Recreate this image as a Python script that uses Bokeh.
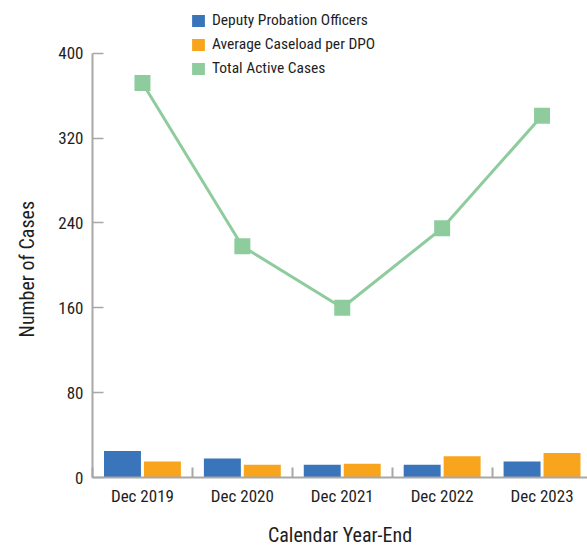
import numpy as np
from bokeh.plotting import figure
from bokeh.models import Range1d, FixedTicker, Legend, LegendItem, Title
from bokeh.embed import file_html
from bokeh.resources import INLINE

# ---- data ----
categories = ["Dec 2019", "Dec 2020", "Dec 2021", "Dec 2022", "Dec 2023"]
dpo = [25, 18, 12, 12, 15]
caseload = [15, 12, 13, 20, 23]
total = [372, 218, 160, 235, 341]
y_ticks = [0, 80, 160, 240, 320, 400]

# ---- style ----
BLUE = "#3A75BC"
ORANGE = "#F8A51D"
GREEN = "#8ECC9E"
AXIS = "#A8A8A8"
TEXT = "#1E1E1E"
FONT = "Roboto Condensed, DejaVu Sans Condensed"

centers = np.arange(len(categories)) + 0.5
bounds = list(range(len(categories) + 1))

p = figure(width=587, height=549, output_backend="svg", toolbar_location=None,
           x_range=Range1d(0, 4.955), y_range=Range1d(0, 449.7),
           min_border_left=90, min_border_top=0, min_border_right=0,
           min_border_bottom=72, outline_line_color=None,
           background_fill_color="white", border_fill_color="white")

p.xgrid.visible = False
p.ygrid.visible = False

r_dpo = p.vbar(x=centers - 0.2, top=dpo, width=0.37, fill_color=BLUE, line_color=None)
r_cl = p.vbar(x=centers + 0.2, top=caseload, width=0.37, fill_color=ORANGE, line_color=None)
p.line(centers, total, line_width=3, line_color=GREEN)
p.scatter(centers, total, marker="square", size=16, fill_color=GREEN, line_color=None)
# zero-height bars: only used to give the legend a square swatch
r_tot = p.vbar(x=centers, top=total, bottom=total, width=0.37, fill_color=GREEN, line_color=None)

# x axis
xa = p.xaxis[0]
xa.ticker = FixedTicker(ticks=list(centers), minor_ticks=bounds)
xa.major_label_overrides = {float(c): lab for c, lab in zip(centers, categories)}
xa.major_tick_line_color = None
xa.major_tick_in = 0
xa.major_tick_out = 0
xa.minor_tick_in = 10
xa.minor_tick_out = 0
xa.minor_tick_line_color = AXIS
xa.minor_tick_line_width = 2
xa.axis_line_color = AXIS
xa.axis_line_width = 2
xa.major_label_standoff = 8
xa.axis_label = "Calendar Year-End"
xa.axis_label_standoff = 14
xa.axis_label_text_font = FONT
xa.axis_label_text_font_size = "20px"
xa.axis_label_text_font_style = "normal"
xa.axis_label_text_color = TEXT

# y axis
ya = p.yaxis[0]
ya.ticker = FixedTicker(ticks=y_ticks)
ya.bounds = (y_ticks[0], y_ticks[-1])
ya.major_tick_in = 11
ya.major_tick_out = 0
ya.major_tick_line_color = AXIS
ya.major_tick_line_width = 1.5
ya.minor_tick_line_color = None
ya.axis_line_color = AXIS
ya.axis_line_width = 2
ya.major_label_standoff = 9

for ax in (xa, ya):
    ax.major_label_text_font = FONT
    ax.major_label_text_font_size = "17px"
    ax.major_label_text_color = TEXT

ytitle = Title(text="Number of Cases", align="left", offset=140,
               vertical_align="top", standoff=29,
               text_font=FONT, text_font_size="20px", text_font_style="normal",
               text_color=TEXT)
p.add_layout(ytitle, "left")

legend = Legend(items=[
    LegendItem(label="Deputy Probation Officers", renderers=[r_dpo]),
    LegendItem(label="Average Caseload per DPO", renderers=[r_cl]),
    LegendItem(label="Total Active Cases", renderers=[r_tot]),
], location=(98, 399), padding=0, margin=0, spacing=4,
    glyph_width=16, glyph_height=15, label_height=20, label_standoff=6,
    label_text_font=FONT, label_text_font_size="15.5px", label_text_color=TEXT,
    border_line_color=None, background_fill_alpha=0)
p.add_layout(legend, "center")

open("out.html", "w").write(file_html(p, INLINE))
